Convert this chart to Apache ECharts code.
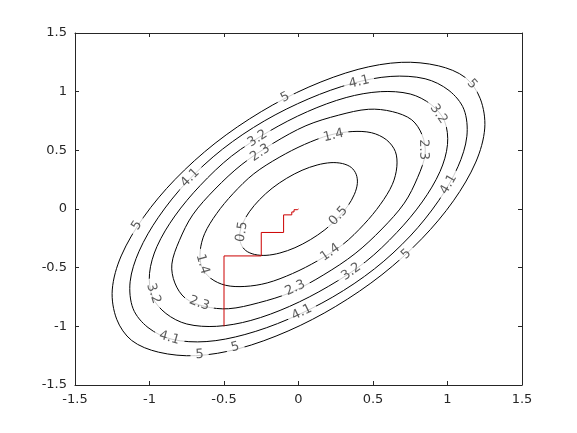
<!DOCTYPE html>
<html>
<head>
<meta charset="utf-8">
<script src="https://cdn.jsdelivr.net/npm/echarts/dist/echarts.min.js"></script>
<style>
  html, body { margin: 0; background: #fff; }
  #chart { width: 577px; height: 433px; }
</style>
</head>
<body>
<div id="chart"></div>
<script>
// contour lines, points (x, y), each a closed loop
const contour05 = [[0.354,0.354],[0.296,0.387],[0.218,0.395],[0.125,0.375],[0.024,0.330],[-0.079,0.262],[-0.177,0.177],[-0.262,0.079],[-0.330,-0.024],[-0.375,-0.125],[-0.395,-0.218],[-0.387,-0.296],[-0.354,-0.354],[-0.296,-0.387],[-0.218,-0.395],[-0.125,-0.375],[-0.024,-0.330],[0.079,-0.262],[0.177,-0.177],[0.262,-0.079],[0.330,0.024],[0.375,0.125],[0.395,0.218],[0.387,0.296]]
const contour14 = [[0.59,0.59],[0.49,0.65],[0.36,0.66],[0.21,0.63],[0.04,0.55],[-0.13,0.44],[-0.30,0.30],[-0.44,0.13],[-0.55,-0.04],[-0.63,-0.21],[-0.66,-0.36],[-0.65,-0.49],[-0.59,-0.59],[-0.49,-0.65],[-0.36,-0.66],[-0.21,-0.63],[-0.04,-0.55],[0.13,-0.44],[0.30,-0.30],[0.44,-0.13],[0.55,0.04],[0.63,0.21],[0.66,0.36],[0.65,0.49]]
const contour23 = [[0.76,0.76],[0.63,0.83],[0.47,0.85],[0.27,0.80],[0.05,0.71],[-0.17,0.56],[-0.38,0.38],[-0.56,0.17],[-0.71,-0.05],[-0.80,-0.27],[-0.85,-0.47],[-0.83,-0.63],[-0.76,-0.76],[-0.63,-0.83],[-0.47,-0.85],[-0.27,-0.80],[-0.05,-0.71],[0.17,-0.56],[0.38,-0.38],[0.56,-0.17],[0.71,0.05],[0.80,0.27],[0.85,0.47],[0.83,0.63]]
const contour32 = [[0.89,0.89],[0.75,0.98],[0.55,1.00],[0.32,0.95],[0.06,0.83],[-0.20,0.66],[-0.45,0.45],[-0.66,0.20],[-0.83,-0.06],[-0.95,-0.32],[-1.00,-0.55],[-0.98,-0.75],[-0.89,-0.89],[-0.75,-0.98],[-0.55,-1.00],[-0.32,-0.95],[-0.06,-0.83],[0.20,-0.66],[0.45,-0.45],[0.66,-0.20],[0.83,0.06],[0.95,0.32],[1.00,0.55],[0.98,0.75]]
const contour41 = [[1.01,1.01],[0.85,1.11],[0.62,1.13],[0.36,1.07],[0.07,0.94],[-0.23,0.75],[-0.51,0.51],[-0.75,0.23],[-0.94,-0.07],[-1.07,-0.36],[-1.13,-0.62],[-1.11,-0.85],[-1.01,-1.01],[-0.85,-1.11],[-0.62,-1.13],[-0.36,-1.07],[-0.07,-0.94],[0.23,-0.75],[0.51,-0.51],[0.75,-0.23],[0.94,0.07],[1.07,0.36],[1.13,0.62],[1.11,0.85]]
const contour50 = [[1.12,1.12],[0.94,1.22],[0.69,1.25],[0.40,1.19],[0.07,1.04],[-0.25,0.83],[-0.56,0.56],[-0.83,0.25],[-1.04,-0.07],[-1.19,-0.40],[-1.25,-0.69],[-1.22,-0.94],[-1.12,-1.12],[-0.94,-1.22],[-0.69,-1.25],[-0.40,-1.19],[-0.07,-1.04],[0.25,-0.83],[0.56,-0.56],[0.83,-0.25],[1.04,0.07],[1.19,0.40],[1.25,0.69],[1.22,0.94]]

// descent path (red)
const descentPath = [[-0.5,-1],[-0.5,-0.4],[-0.25,-0.4],[-0.25,-0.2],[-0.1,-0.2],[-0.1,-0.05],[-0.045,-0.05],[-0.045,-0.025],[-0.03,-0.025],[-0.03,-0.006],[-0.008,-0.006],[-0.008,0],[0,0]]

// contour labels: x, y, text
const contourLabels = [
  [-0.38,-0.195,'0.5'], [0.268,-0.06,'0.5'],
  [0.235,0.626,'1.4'], [0.213,-0.371,'1.4'], [-0.644,-0.47,'1.4'],
  [-0.257,0.478,'2.3'], [0.839,0.507,'2.3'], [-0.666,-0.805,'2.3'], [-0.022,-0.674,'2.3'],
  [-0.275,0.601,'3.2'], [0.94,0.81,'3.2'], [-0.973,-0.72,'3.2'], [0.354,-0.535,'3.2'],
  [-0.727,0.266,'4.1'], [0.407,1.082,'4.1'], [1.007,0.21,'4.1'], [-0.866,-1.099,'4.1'], [0.023,-0.881,'4.1'],
  [-0.089,0.952,'5'], [1.164,1.065,'5'], [-1.085,-0.14,'5'], [-0.664,-1.24,'5'], [-0.425,-1.178,'5'], [0.723,-0.385,'5']
]
const labelAngles = [81, 47, 13, 35, -74, 34, -89, -20, 25, 33, -56, -72, 35, 45, 13, 60, -16, 26, 27, -48, 57, 4, 14, 43]

const fontFamily = 'DejaVu Sans'
const axisColor = '#262626'

const chart = echarts.init(document.getElementById('chart'))

const baseAxis = {
  type: 'value',
  min: -1.5,
  max: 1.5,
  interval: 0.5,
  axisLine: { show: true, onZero: false, lineStyle: { color: axisColor, width: 1 } },
  axisTick: { show: true, inside: true, length: 4, lineStyle: { color: axisColor } },
  splitLine: { show: false }
}
const tickLabel = { color: axisColor, fontSize: 13, fontFamily: fontFamily, margin: 8 }

// closed smooth loop drawn once per contour, points mapped through the axes
function contourSeries(points) {
  return {
    type: 'custom',
    data: points,
    encode: { x: 0, y: 1 },
    silent: true,
    z: 2,
    renderItem: function (params, api) {
      if (params.dataIndex !== 0) return null
      return {
        type: 'polygon',
        shape: { points: points.map(p => api.coord(p)), smooth: 0.33 },
        style: { fill: 'none', stroke: '#000', lineWidth: 1 }
      }
    }
  }
}

chart.setOption({
  animation: false,
  backgroundColor: '#fff',
  grid: { left: 75, right: 55, top: 33, bottom: 48 },
  xAxis: [
    Object.assign({}, baseAxis, { position: 'bottom', axisLabel: tickLabel }),
    Object.assign({}, baseAxis, { position: 'top', axisLabel: { show: false } })
  ],
  yAxis: [
    Object.assign({}, baseAxis, { position: 'left', axisLabel: tickLabel }),
    Object.assign({}, baseAxis, { position: 'right', axisLabel: { show: false } })
  ],
  series: [
    contourSeries(contour05),
    contourSeries(contour14),
    contourSeries(contour23),
    contourSeries(contour32),
    contourSeries(contour41),
    contourSeries(contour50),
    {
      type: 'scatter',
      symbolSize: 1,
      silent: true,
      z: 4,
      itemStyle: { color: 'rgba(0,0,0,0)' },
      label: {
        show: true,
        position: 'inside',
        color: '#333',
        fontSize: 13,
        fontFamily: fontFamily,
        lineHeight: 12,
        backgroundColor: '#fff',
        padding: [0, 5]
      },
      data: contourLabels.map((d, i) => ({
        value: [d[0], d[1]],
        label: { rotate: labelAngles[i], formatter: d[2] }
      }))
    },
    {
      type: 'line',
      data: descentPath,
      symbol: 'none',
      silent: true,
      z: 5,
      lineStyle: { color: '#cc0000', width: 1 }
    }
  ]
})
</script>
</body>
</html>
